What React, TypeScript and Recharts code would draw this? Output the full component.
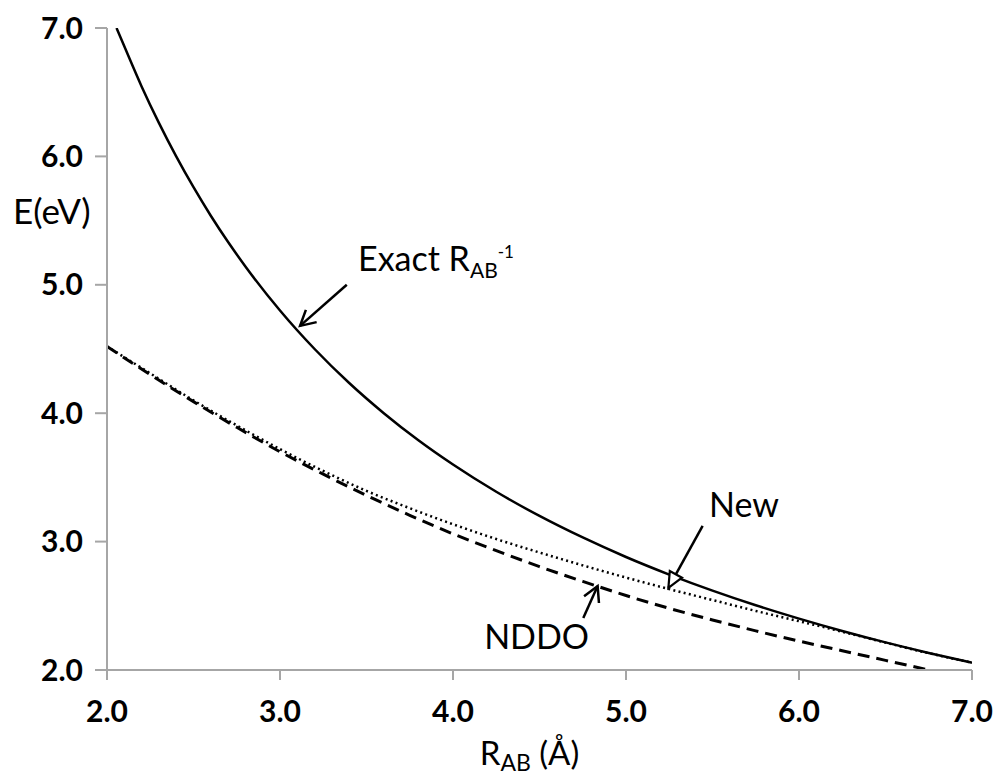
import React from 'react';
import { LineChart, Line, XAxis, YAxis, ReferenceLine, ReferenceDot } from 'recharts';

const xTicks = [2, 3, 4, 5, 6, 7];
const yTicks = [2, 3, 4, 5, 6, 7];

const exactR = [2.055, 2.1, 2.2, 2.3, 2.4, 2.5, 2.6, 2.7, 2.8, 3.0, 3.2, 3.4, 3.6, 3.8, 4.0, 4.25, 4.5, 4.75, 5.0, 5.25, 5.5, 5.75, 6.0, 6.25, 6.5, 6.75, 7.0];
const exactE = [7.0, 6.857, 6.545, 6.261, 6.0, 5.76, 5.538, 5.333, 5.143, 4.8, 4.5, 4.235, 4.0, 3.789, 3.6, 3.388, 3.2, 3.032, 2.88, 2.743, 2.618, 2.504, 2.4, 2.304, 2.215, 2.133, 2.057];

const newR = [2.0, 2.25, 2.5, 2.75, 3.0, 3.25, 3.5, 3.75, 4.0, 4.25, 4.5, 4.75, 5.0, 5.25, 5.5, 5.75, 6.0, 6.25, 6.5, 6.75, 7.0];
const newE = [4.52, 4.31, 4.1, 3.905, 3.72, 3.55, 3.395, 3.26, 3.135, 3.02, 2.915, 2.815, 2.72, 2.63, 2.545, 2.46, 2.38, 2.298, 2.213, 2.131, 2.057];

const nddoR = [2.0, 2.25, 2.5, 2.75, 3.0, 3.25, 3.5, 3.75, 4.0, 4.25, 4.5, 4.75, 5.0, 5.25, 5.5, 5.75, 6.0, 6.25, 6.5, 6.75];
const nddoE = [4.52, 4.3, 4.09, 3.89, 3.7, 3.525, 3.36, 3.205, 3.06, 2.93, 2.805, 2.69, 2.58, 2.48, 2.39, 2.305, 2.225, 2.15, 2.075, 2.0];

// annotation arrows: tail -> tip (data coordinates)
const arrows = [
  { id: 'exact', from: { x: 3.386, y: 5.0 }, to: { x: 3.116, y: 4.68 }, head: 'chevron' },
  { id: 'new', from: { x: 5.443, y: 3.122 }, to: { x: 5.245, y: 2.639 }, head: 'triangle' },
  { id: 'nddo', from: { x: 4.753, y: 2.405 }, to: { x: 4.836, y: 2.654 }, head: 'chevron' },
];

const labels = [
  { id: 'exact', x: 3.451, y: 5.107 },
  { id: 'new', x: 5.48, y: 3.192 },
  { id: 'nddo', x: 4.18, y: 2.163 },
];

const toPts = (xs: number[], ys: number[]) => xs.map((x, i) => ({ x, y: ys[i] }));
const exactData = toPts(exactR, exactE);
const newData = toPts(newR, newE);
const nddoData = toPts(nddoR, nddoE);

const FONT = 'Lato, "Open Sans", sans-serif';
const AXIS = '#a6a6a6';

const makeArrow = (head: string) => (props: any) => {
  const { x1, y1, x2, y2 } = props;
  const ang = Math.atan2(y2 - y1, x2 - x1);
  const L = 17;
  const spread = head === 'triangle' ? 0.42 : 0.5;
  const ax = x2 - L * Math.cos(ang - spread);
  const ay = y2 - L * Math.sin(ang - spread);
  const bx = x2 - L * Math.cos(ang + spread);
  const by = y2 - L * Math.sin(ang + spread);
  return (
    <g>
      <line x1={x1} y1={y1} x2={x2} y2={y2} stroke="#000" strokeWidth={2.5} />
      {head === 'triangle' ? (
        <polygon points={`${x2},${y2} ${ax},${ay} ${bx},${by}`} fill="#fff" stroke="#000" strokeWidth={2.2} strokeLinejoin="miter" />
      ) : (
        <polyline points={`${ax},${ay} ${x2},${y2} ${bx},${by}`} fill="none" stroke="#000" strokeWidth={2.5} />
      )}
    </g>
  );
};

const labelShape = (id: string) => (props: any) => {
  const { cx, cy } = props;
  if (id === 'exact') {
    return (
      <text x={cx} y={cy} fontFamily={FONT} fontSize={34} fill="#000">
        Exact R
        <tspan fontSize={21} dy={7}>AB</tspan>
        <tspan fontSize={17} dy={-20}>-1</tspan>
      </text>
    );
  }
  return (
    <text x={cx} y={cy} fontFamily={FONT} fontSize={34} fill="#000">
      {id === 'new' ? 'New' : 'NDDO'}
    </text>
  );
};

export default function App() {
  return (
    <div style={{ position: 'absolute', left: 0, top: 0, width: 995, height: 776, background: '#fff' }}>
      <LineChart width={995} height={776} margin={{ top: 28, right: 23, left: 0, bottom: 0 }}>
        <XAxis
          dataKey="x"
          type="number"
          domain={[2, 7]}
          ticks={xTicks}
          interval={0}
          tickFormatter={(v: number) => v.toFixed(1)}
          height={106}
          tickSize={10}
          tickMargin={21}
          axisLine={{ stroke: AXIS, strokeWidth: 2 }}
          tickLine={{ stroke: AXIS, strokeWidth: 2 }}
          tick={{ fontFamily: FONT, fontWeight: 700, fontSize: 30, fill: '#000' }}
          allowDataOverflow
          label={{
            content: (p: any) => {
              const vb = p.viewBox;
              return (
                <text x={vb.x + vb.width / 2 - 10} y={vb.y + 95} textAnchor="middle" fontFamily={FONT} fontSize={33} fill="#000">
                  R<tspan fontSize={23} dy={6}>AB</tspan>
                  <tspan dy={-6}> (Å)</tspan>
                </text>
              );
            },
          }}
        />
        <YAxis
          type="number"
          domain={[2, 7]}
          ticks={yTicks}
          interval={0}
          tickFormatter={(v: number) => v.toFixed(1)}
          width={107}
          tickSize={12}
          tickMargin={12}
          axisLine={{ stroke: AXIS, strokeWidth: 2 }}
          tickLine={{ stroke: AXIS, strokeWidth: 2 }}
          tick={{ fontFamily: FONT, fontWeight: 700, fontSize: 30, fill: '#000' }}
          allowDataOverflow
          label={{
            content: (p: any) => {
              const vb = p.viewBox;
              return (
                <text x={vb.x + 13} y={224} fontFamily={FONT} fontSize={35} fill="#000">
                  E(eV)
                </text>
              );
            },
          }}
        />
        <Line data={nddoData} dataKey="y" type="monotone" stroke="#000" strokeWidth={3} strokeDasharray="12 7" dot={false} isAnimationActive={false} />
        <Line data={newData} dataKey="y" type="monotone" stroke="#000" strokeWidth={2.5} strokeDasharray="2 3.3" dot={false} isAnimationActive={false} />
        <Line data={exactData} dataKey="y" type="monotone" stroke="#000" strokeWidth={2.5} dot={false} isAnimationActive={false} />
        {arrows.map((a) => (
          <ReferenceLine key={a.id} segment={[a.from, a.to]} ifOverflow="visible" shape={makeArrow(a.head)} />
        ))}
        {labels.map((l) => (
          <ReferenceDot key={l.id} x={l.x} y={l.y} r={1} ifOverflow="visible" shape={labelShape(l.id)} />
        ))}
      </LineChart>
    </div>
  );
}
